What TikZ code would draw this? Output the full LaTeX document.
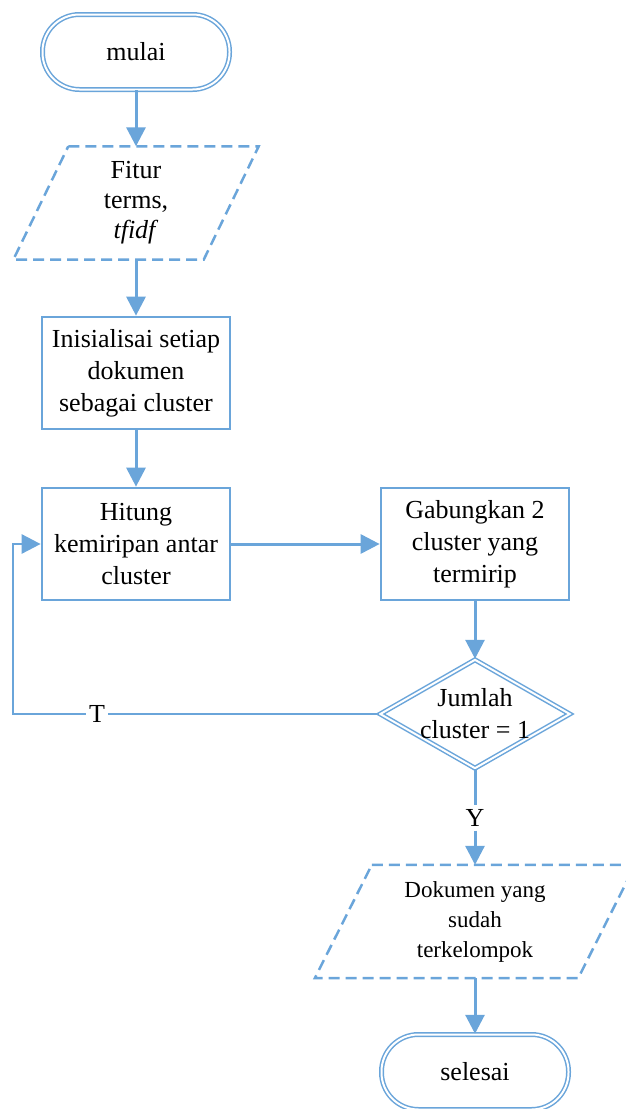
\documentclass[tikz,border=0pt]{standalone}
\usepackage{fontspec}
\setmainfont{Liberation Serif}
\usetikzlibrary{arrows.meta,shapes.geometric}
\definecolor{fcblue}{RGB}{106,165,218}
\begin{document}
\begin{tikzpicture}[x=1pt,y=-1pt,
  bigfont/.style={font=\fontsize{26}{32}\selectfont},
  line/.style={draw=fcblue,line width=3pt},
  arr/.style={line,-{Triangle[width=19pt,length=19pt]}},
  procbox/.style={draw=fcblue,line width=2.7pt,minimum width=188pt,minimum height=112pt,inner sep=0pt,align=center,bigfont},
  termbox/.style={draw=fcblue,double=white,double distance=2pt,line width=1.5pt,rounded corners=37pt,minimum width=187pt,minimum height=75pt,inner sep=0pt,bigfont},
  iobox/.style={minimum height=113pt,inner sep=0pt,align=center},
  iodraw/.style={draw=fcblue,line width=2.5pt,dash pattern=on 11pt off 6pt},
  decbox/.style={shape=diamond,draw=fcblue,double=white,double distance=2pt,line width=1.5pt,minimum width=190pt,minimum height=109pt,inner sep=0pt},
  lbl/.style={fill=white,inner sep=3pt,bigfont}]
\useasboundingbox (0,0) rectangle (626,1109);

\node[termbox] (mulai) at (136,52) {mulai};
\node[iobox,minimum width=190pt,font=\fontsize{26}{30}\selectfont] (fitur) at (136,203) {Fitur\\terms,\\\textit{tfidf}};
\draw[iodraw] ([xshift=27.5pt]fitur.north west) -- ([xshift=27.5pt]fitur.north east)
  -- ([xshift=-27.5pt]fitur.south east) -- ([xshift=-27.5pt]fitur.south west) -- cycle;
\node[procbox] (init) at (136,373) {Inisialisai setiap\\dokumen\\sebagai cluster};
\node[procbox] (hitung) at (136,544) {Hitung\\kemiripan antar\\cluster};
\node[procbox] (gab) at (475,544) {Gabungkan 2\\cluster yang\\termirip};
\node[decbox] (dec) at (475,714) {};
\node[align=center,bigfont,inner sep=0pt] (dectext) at (dec.center) {Jumlah\\cluster = 1};
\node[iobox,minimum width=263pt,font=\fontsize{23}{30}\selectfont] (dok) at (475,921.5) {Dokumen yang\\sudah\\terkelompok};
\draw[iodraw] ([xshift=28.5pt]dok.north west) -- ([xshift=28.5pt]dok.north east)
  -- ([xshift=-28.5pt]dok.south east) -- ([xshift=-28.5pt]dok.south west) -- cycle;
\node[termbox] (sel) at (475,1072) {selesai};

\draw[arr] (mulai.south) -- (fitur.north);
\draw[arr] (fitur.south) -- (init.north);
\draw[arr] (init.south) -- (hitung.north);
\draw[arr] (hitung.east) -- (gab.west);
\draw[arr] (gab.south) -- (dec.north);
\coordinate (lp) at (13,600);
\draw[arr,line width=2.7pt] (dec.west) -- (dec.west -| lp) -- (hitung.west -| lp) -- (hitung.west);
\node[lbl] (tlab) at (97,714) {T};
\node[lbl,inner sep=4pt] (ylab) at (475,818) {Y};
\draw[line] (dec.south) -- (ylab.north);
\draw[arr] (ylab.south) -- (dok.north);
\draw[arr] (dok.south) -- (sel.north);
\end{tikzpicture}
\end{document}
